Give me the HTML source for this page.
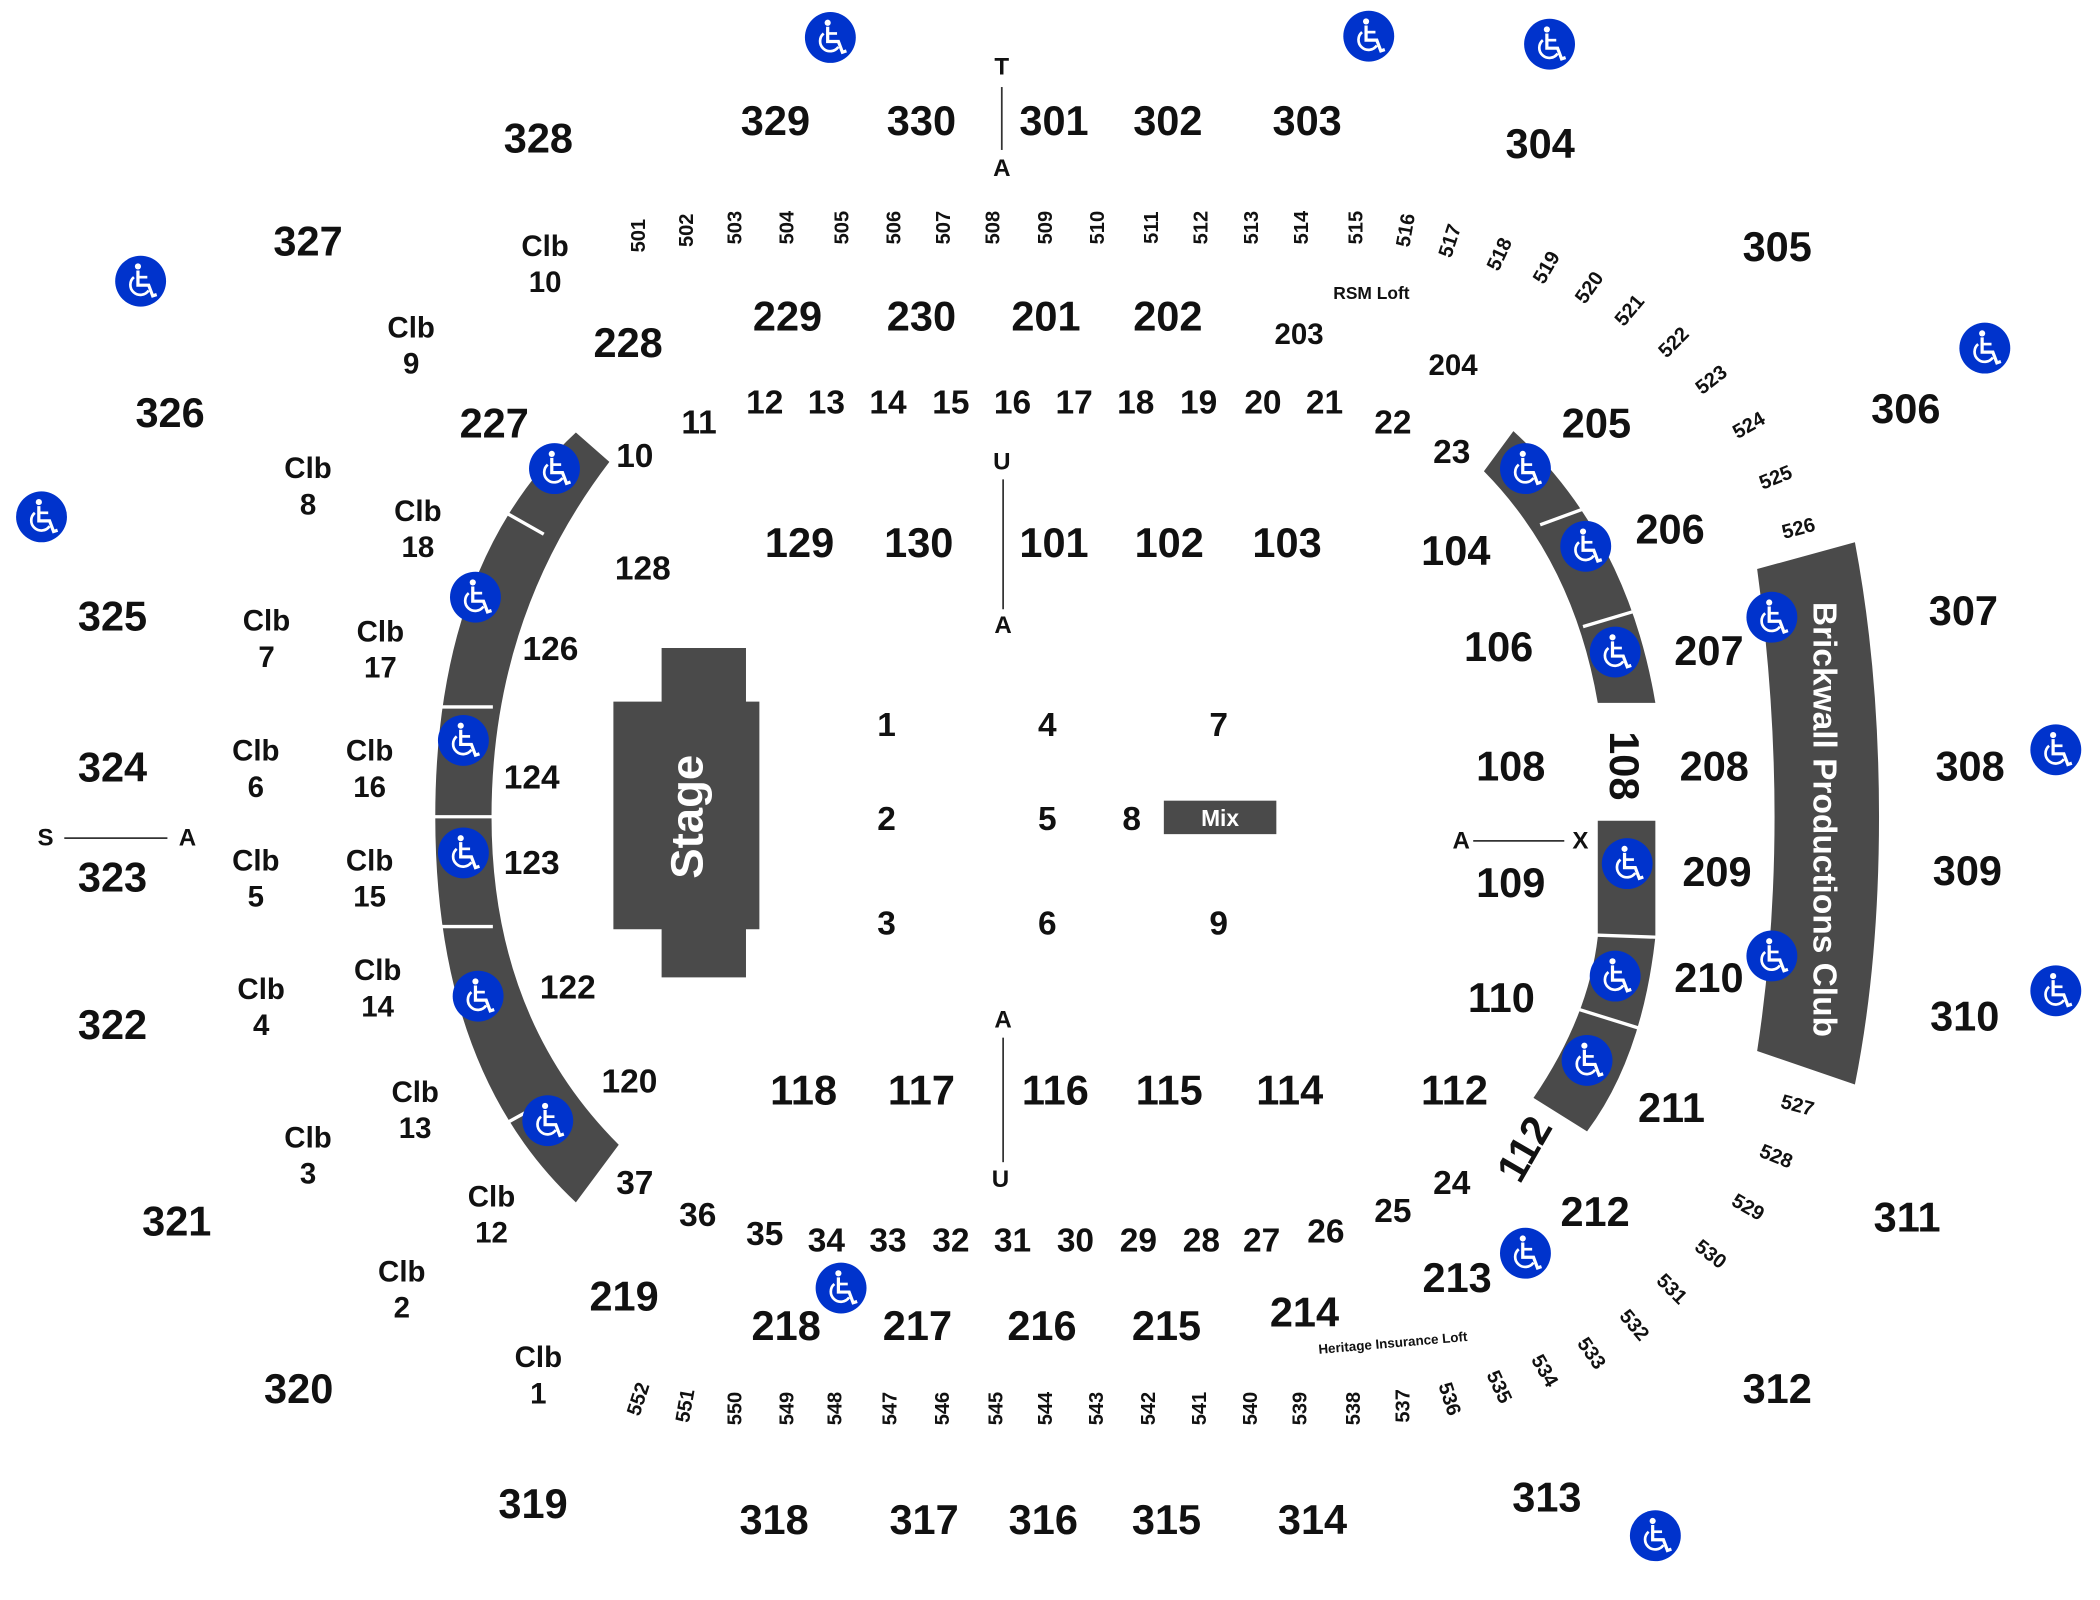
<!DOCTYPE html>
<html><head><meta charset="utf-8"><style>
html,body{margin:0;padding:0;background:#fff;}
svg{display:block;}
text{font-family:"Liberation Sans",Arial,sans-serif;font-weight:bold;fill:#111;text-anchor:middle;dominant-baseline:central;}
.l{font-size:31px}.m{font-size:27px}.f{font-size:25px}.c{font-size:22px}.s{font-size:15px}.t{font-size:18px}
</style></head><body>
<svg width="2100" height="1600" viewBox="0 0 1568 1195" preserveAspectRatio="none" xmlns="http://www.w3.org/2000/svg">
<defs>
<g id="w"><circle r="19" fill="#0033cc"/>
<circle cx="-2" cy="-11" r="2.3" fill="#fff"/>
<path d="M-2,-8 L-2,3 L6,3 L9,11 L12,10" stroke="#fff" stroke-width="2.4" fill="none"/>
<path d="M-2,-3 L5,-3" stroke="#fff" stroke-width="2"/>
<path d="M-5,-3 A7.5,7.5 0 1 0 6,7" stroke="#fff" stroke-width="2" fill="none"/>
</g>
</defs>
<path d="M430 323 Q325 420 325 610 Q325 800 430 898 L462 855 Q367 760 367 610 Q367 460 455 345 Z" fill="#4a4a4a"/>
<g stroke="#fff" stroke-width="2.5">
<line x1="376" y1="382" x2="406" y2="399"/><line x1="324" y1="528" x2="368" y2="528"/><line x1="324" y1="610" x2="368" y2="610"/><line x1="324" y1="692" x2="368" y2="692"/><line x1="376" y1="840" x2="412" y2="820"/>
</g>
<path d="M1130 322 Q1215 400 1236 525 L1193 525 Q1175 420 1108 352 Z" fill="#4a4a4a"/>
<path d="M1236 613 L1236 700 Q1226 790 1185 845 L1145 820 Q1186 760 1193 700 L1193 613 Z" fill="#4a4a4a"/>
<g stroke="#fff" stroke-width="2.5">
<line x1="1150" y1="392" x2="1188" y2="378"/><line x1="1182" y1="468" x2="1222" y2="456"/><line x1="1180" y1="698" x2="1238" y2="700"/><line x1="1176" y1="753" x2="1224" y2="768"/>
</g>
<path d="M1312 425 L1385 405 Q1403 500 1403 610 Q1403 720 1385 810 L1312 785 Q1325 700 1325 610 Q1325 520 1312 425 Z" fill="#4a4a4a"/>
<text x="1362" y="612" transform="rotate(90 1362 612)" style="font-size:25px;fill:#fff">Brickwall Productions Club</text>
<path d="M494 484 H557 V524 H567 V694 H557 V730 H494 V694 H458 V524 H494 Z" fill="#4a4a4a"/>
<text x="513" y="610" transform="rotate(-90 513 610)" style="font-size:34px;fill:#fff">Stage</text>
<rect x="869" y="598" width="84" height="25" fill="#4a4a4a"/>
<text x="911" y="611" style="font-size:17px;fill:#fff">Mix</text>
<g stroke="#333" stroke-width="1.3">
<line x1="748" y1="65" x2="748" y2="112"/><line x1="749" y1="358" x2="749" y2="455"/><line x1="749" y1="775" x2="749" y2="868"/>
<line x1="48" y1="626" x2="125" y2="626"/><line x1="1100" y1="628" x2="1168" y2="628"/>
</g>
<g class="t">
<text x="748" y="50" class="t">T</text><text x="748" y="126" class="t">A</text><text x="748" y="345" class="t">U</text><text x="749" y="467" class="t">A</text><text x="749" y="762" class="t">A</text><text x="747" y="881" class="t">U</text><text x="34" y="626" class="t">S</text><text x="140" y="626" class="t">A</text><text x="1091" y="628" class="t">A</text><text x="1180" y="628" class="t">X</text>
</g>
<g class="l">
<text x="402" y="103">328</text><text x="579" y="90">329</text><text x="688" y="90">330</text><text x="787" y="90">301</text><text x="872" y="90">302</text><text x="976" y="90">303</text><text x="1150" y="107">304</text><text x="1327" y="184">305</text><text x="1423" y="305">306</text><text x="1466" y="456">307</text><text x="1471" y="572">308</text><text x="1469" y="650">309</text><text x="1467" y="759">310</text><text x="1424" y="909">311</text><text x="1327" y="1037">312</text><text x="1155" y="1118">313</text><text x="980" y="1135">314</text><text x="871" y="1135">315</text><text x="779" y="1135">316</text><text x="690" y="1135">317</text><text x="578" y="1135">318</text><text x="398" y="1123">319</text><text x="223" y="1037">320</text><text x="132" y="912">321</text><text x="84" y="765">322</text><text x="84" y="655">323</text><text x="84" y="573">324</text><text x="84" y="460">325</text><text x="127" y="308">326</text><text x="230" y="180">327</text>
<text x="588" y="236">229</text><text x="688" y="236">230</text><text x="781" y="236">201</text><text x="872" y="236">202</text><text x="1192" y="316">205</text><text x="1247" y="395">206</text><text x="1276" y="486">207</text><text x="1280" y="572">208</text><text x="1282" y="651">209</text><text x="1276" y="730">210</text><text x="1248" y="827">211</text><text x="1191" y="905">212</text><text x="1088" y="954">213</text><text x="974" y="980">214</text><text x="871" y="990">215</text><text x="778" y="990">216</text><text x="685" y="990">217</text><text x="587" y="990">218</text><text x="466" y="968">219</text><text x="469" y="256">228</text><text x="369" y="316">227</text>
<text x="597" y="405">129</text><text x="686" y="405">130</text><text x="787" y="405">101</text><text x="873" y="405">102</text><text x="961" y="405">103</text><text x="1087" y="411">104</text><text x="1119" y="483">106</text><text x="1128" y="572">108</text><text x="1128" y="659">109</text><text x="1121" y="745">110</text><text x="1086" y="814">112</text><text x="600" y="814">118</text><text x="688" y="814">117</text><text x="788" y="814">116</text><text x="873" y="814">115</text><text x="963" y="814">114</text>
<text x="1213" y="572" transform="rotate(90 1213 572)">108</text>
<text x="1138" y="858" transform="rotate(-60 1138 858)">112</text>
</g>
<g class="c"><text x="970" y="250">203</text><text x="1085" y="273">204</text></g>
<g class="f">
<text x="480" y="425">128</text><text x="411" y="485">126</text><text x="397" y="581">124</text><text x="397" y="645">123</text><text x="424" y="738">122</text><text x="470" y="808">120</text>
<text x="474" y="341">10</text><text x="522" y="316">11</text><text x="571" y="301">12</text><text x="617" y="301">13</text><text x="663" y="301">14</text><text x="710" y="301">15</text><text x="756" y="301">16</text><text x="802" y="301">17</text><text x="848" y="301">18</text><text x="895" y="301">19</text><text x="943" y="301">20</text><text x="989" y="301">21</text><text x="1040" y="316">22</text><text x="1084" y="338">23</text>
<text x="1084" y="884">24</text><text x="1040" y="905">25</text><text x="990" y="920">26</text><text x="942" y="927">27</text><text x="897" y="927">28</text><text x="850" y="927">29</text><text x="803" y="927">30</text><text x="756" y="927">31</text><text x="710" y="927">32</text><text x="663" y="927">33</text><text x="617" y="927">34</text><text x="571" y="922">35</text><text x="521" y="908">36</text><text x="474" y="884">37</text>
<text x="662" y="542">1</text><text x="782" y="542">4</text><text x="910" y="542">7</text><text x="662" y="612">2</text><text x="782" y="612">5</text><text x="845" y="612">8</text><text x="662" y="690">3</text><text x="782" y="690">6</text><text x="910" y="690">9</text>
</g>
<g class="c">
<text x="407" y="184">Clb</text><text x="407" y="211">10</text>
<text x="307" y="245">Clb</text><text x="307" y="272">9</text>
<text x="230" y="350">Clb</text><text x="230" y="377">8</text>
<text x="312" y="382">Clb</text><text x="312" y="409">18</text>
<text x="199" y="464">Clb</text><text x="199" y="491">7</text>
<text x="284" y="472">Clb</text><text x="284" y="499">17</text>
<text x="191" y="561">Clb</text><text x="191" y="588">6</text>
<text x="276" y="561">Clb</text><text x="276" y="588">16</text>
<text x="191" y="643">Clb</text><text x="191" y="670">5</text>
<text x="276" y="643">Clb</text><text x="276" y="670">15</text>
<text x="195" y="739">Clb</text><text x="195" y="766">4</text>
<text x="282" y="725">Clb</text><text x="282" y="752">14</text>
<text x="310" y="816">Clb</text><text x="310" y="843">13</text>
<text x="230" y="850">Clb</text><text x="230" y="877">3</text>
<text x="367" y="894">Clb</text><text x="367" y="921">12</text>
<text x="300" y="950">Clb</text><text x="300" y="977">2</text>
<text x="402" y="1014">Clb</text><text x="402" y="1041">1</text>
</g>
<text x="1024" y="219" style="font-size:13px">RSM Loft</text>
<text x="1040" y="1003" transform="rotate(-5 1040 1003)" style="font-size:10px">Heritage Insurance Loft</text>
<g class="s">
<text x="477" y="176" transform="rotate(-90 477 176)">501</text><text x="513" y="172" transform="rotate(-90 513 172)">502</text><text x="549" y="170" transform="rotate(-90 549 170)">503</text><text x="588" y="170" transform="rotate(-90 588 170)">504</text><text x="629" y="170" transform="rotate(-90 629 170)">505</text><text x="668" y="170" transform="rotate(-90 668 170)">506</text><text x="705" y="170" transform="rotate(-90 705 170)">507</text><text x="742" y="170" transform="rotate(-90 742 170)">508</text><text x="781" y="170" transform="rotate(-90 781 170)">509</text><text x="820" y="170" transform="rotate(-90 820 170)">510</text><text x="860" y="170" transform="rotate(-90 860 170)">511</text><text x="897" y="170" transform="rotate(-90 897 170)">512</text><text x="935" y="170" transform="rotate(-90 935 170)">513</text><text x="972" y="170" transform="rotate(-90 972 170)">514</text><text x="1013" y="170" transform="rotate(-90 1013 170)">515</text><text x="1050" y="172" transform="rotate(-80 1050 172)">516</text>
<text x="1083" y="180" transform="rotate(-72 1083 180)">517</text><text x="1120" y="190" transform="rotate(-65 1120 190)">518</text><text x="1155" y="200" transform="rotate(-60 1155 200)">519</text><text x="1187" y="215" transform="rotate(-55 1187 215)">520</text><text x="1217" y="232" transform="rotate(-50 1217 232)">521</text><text x="1250" y="256" transform="rotate(-45 1250 256)">522</text><text x="1278" y="284" transform="rotate(-38 1278 284)">523</text><text x="1306" y="318" transform="rotate(-30 1306 318)">524</text><text x="1326" y="357" transform="rotate(-22 1326 357)">525</text><text x="1343" y="395" transform="rotate(-15 1343 395)">526</text>
<text x="1342" y="826" transform="rotate(15 1342 826)">527</text><text x="1326" y="864" transform="rotate(22 1326 864)">528</text><text x="1305" y="902" transform="rotate(30 1305 902)">529</text><text x="1277" y="937" transform="rotate(38 1277 937)">530</text><text x="1248" y="963" transform="rotate(45 1248 963)">531</text><text x="1220" y="990" transform="rotate(50 1220 990)">532</text><text x="1188" y="1011" transform="rotate(55 1188 1011)">533</text><text x="1153" y="1024" transform="rotate(60 1153 1024)">534</text><text x="1119" y="1036" transform="rotate(65 1119 1036)">535</text><text x="1082" y="1045" transform="rotate(72 1082 1045)">536</text>
<text x="1048" y="1050" transform="rotate(-90 1048 1050)">537</text><text x="1011" y="1052" transform="rotate(-90 1011 1052)">538</text><text x="971" y="1052" transform="rotate(-90 971 1052)">539</text><text x="934" y="1052" transform="rotate(-90 934 1052)">540</text><text x="896" y="1052" transform="rotate(-90 896 1052)">541</text><text x="858" y="1052" transform="rotate(-90 858 1052)">542</text><text x="819" y="1052" transform="rotate(-90 819 1052)">543</text><text x="781" y="1052" transform="rotate(-90 781 1052)">544</text><text x="744" y="1052" transform="rotate(-90 744 1052)">545</text><text x="704" y="1052" transform="rotate(-90 704 1052)">546</text><text x="665" y="1052" transform="rotate(-90 665 1052)">547</text><text x="624" y="1052" transform="rotate(-90 624 1052)">548</text><text x="588" y="1052" transform="rotate(-90 588 1052)">549</text><text x="549" y="1052" transform="rotate(-90 549 1052)">550</text><text x="512" y="1050" transform="rotate(-80 512 1050)">551</text><text x="477" y="1045" transform="rotate(-72 477 1045)">552</text>
</g>
<g>
<use href="#w" x="620" y="28"/><use href="#w" x="1022" y="27"/><use href="#w" x="1157" y="33"/><use href="#w" x="105" y="210"/><use href="#w" x="31" y="386"/><use href="#w" x="1482" y="260"/><use href="#w" x="1535" y="560"/><use href="#w" x="1535" y="740"/><use href="#w" x="1236" y="1147"/><use href="#w" x="628" y="962"/><use href="#w" x="1139" y="936"/>
<use href="#w" x="414" y="350"/><use href="#w" x="355" y="446"/><use href="#w" x="346" y="553"/><use href="#w" x="346" y="637"/><use href="#w" x="357" y="744"/><use href="#w" x="409" y="837"/>
<use href="#w" x="1139" y="350"/><use href="#w" x="1184" y="408"/><use href="#w" x="1206" y="487"/><use href="#w" x="1323" y="461"/><use href="#w" x="1215" y="645"/><use href="#w" x="1323" y="714"/><use href="#w" x="1206" y="729"/><use href="#w" x="1185" y="792"/>
</g>
</svg>
</body></html>
